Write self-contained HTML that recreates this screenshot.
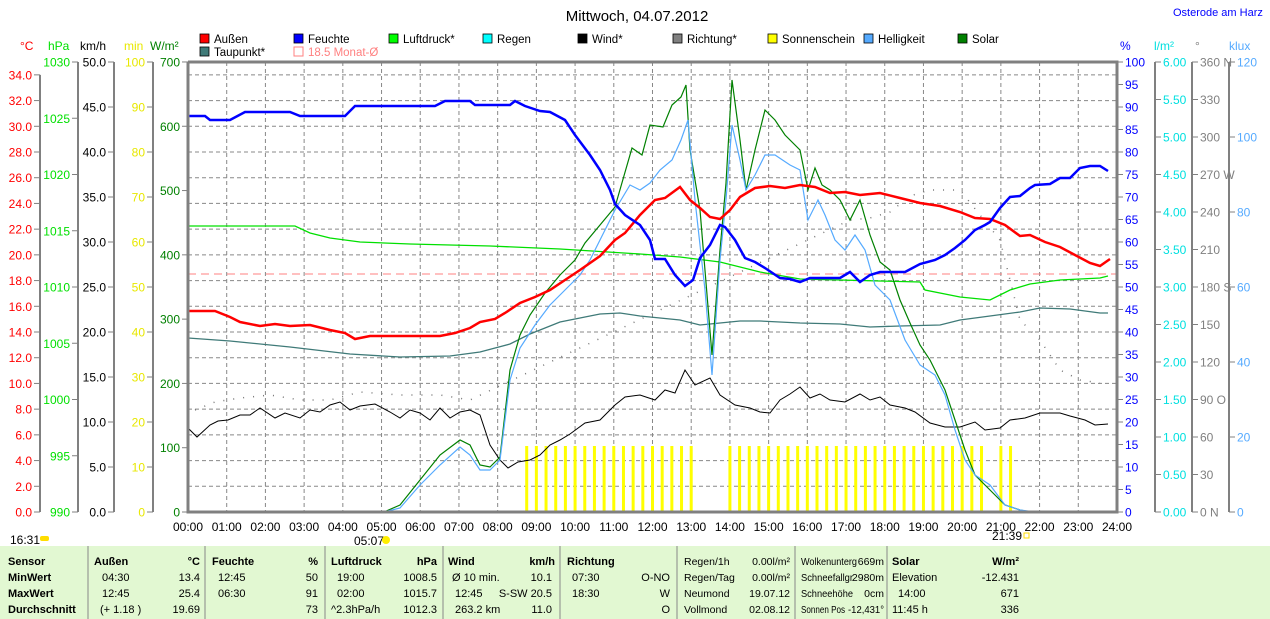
<!DOCTYPE html>
<html><head><meta charset="utf-8"><style>
body{margin:0;background:#fff;width:1270px;height:619px;overflow:hidden;font-family:"Liberation Sans",sans-serif}
svg{position:absolute;left:0;top:0}
</style></head><body>
<svg id="s" width="1270" height="619" xmlns="http://www.w3.org/2000/svg" font-family="Liberation Sans, sans-serif" font-size="11"></svg>
<script>
const s=document.getElementById('s');let h='';
const X=t=>188+38.708*t;
const L=188,R=1117,T=62,B=512;
h+=`<rect x="0" y="546" width="1270" height="73" fill="#e2f8d2"/>`;
[88,205,325,443,560,677,795,887].forEach(x=>h+=`<line x1="${x}" y1="546" x2="${x}" y2="619" stroke="#888" stroke-width="1"/>`);
for(let k=1;k<=17;k++){const y=512-25.714*k;h+=`<line x1="${L}" y1="${y}" x2="${R}" y2="${y}" stroke="#888" stroke-dasharray="4,3"/>`;}
for(let k=1;k<24;k++){h+=`<line x1="${X(k)}" y1="${T}" x2="${X(k)}" y2="${B}" stroke="#888" stroke-dasharray="4,3"/>`;}
const bars=[];for(let t=8.75;t<=13.001;t+=.25)bars.push(t);for(let t=14;t<=20.501;t+=.25)bars.push(t);bars.push(21,21.25);
bars.forEach(t=>h+=`<rect x="${X(t)-1.5}" y="446" width="3" height="66" fill="#ffff00"/>`);
h+=`<line x1="${L}" y1="511" x2="${R}" y2="511" stroke="#ffff00" stroke-dasharray="1,9"/>`;
h+=`<line x1="${L}" y1="274" x2="${R}" y2="274" stroke="#ff8080" stroke-dasharray="8,5"/>`;
function pl(pts,c,w,extra=''){h+=`<polyline fill="none" stroke="${c}" stroke-width="${w}" ${extra} points="${pts}"/>`;}
pl("195,410 215,402 240,398 270,395 300,400 330,400 360,392 400,395 440,395 470,400 850,220 870,218 890,212 910,196 930,190 960,190 1000,240 1020,320 1040,340 1060,370 1080,380 1100,383","#777",1.5,'stroke-dasharray="1,9"');
pl("188,338 230,341 290,347 350,354 400,357 450,356 480,352 510,344 530,334 560,322 600,314 620,313 640,316 660,318 680,320 700,325 720,323 740,321 760,321 800,323 840,324 870,327 900,326 940,325 960,320 990,316 1020,312 1040,308 1070,309 1100,313 1108,313","#3f7a78",1.3);
pl("188,226 295,226 310,233 330,238 360,242 410,244 490,246 560,249 640,254 680,257 720,262 760,272 800,279 880,281 920,282 925,290 960,297 990,300 1010,290 1030,284 1060,280 1100,278 1108,276","#00e000",1.3);
pl("188,428 197,437 210,425 218,421 228,420 240,415 250,415 260,408 275,418 285,413 300,418 310,410 320,412 330,405 340,402 350,410 360,406 375,404 390,412 400,418 410,410 420,413 430,420 440,408 450,418 460,412 470,410 480,415 490,445 500,460 508,468 518,462 530,460 540,455 550,445 560,440 570,434 585,423 600,420 615,405 625,397 640,395 655,400 665,390 675,393 685,370 695,385 710,378 720,395 735,405 750,408 760,412 770,413 780,400 790,394 800,387 810,398 820,394 830,400 845,402 860,394 870,400 880,397 890,405 905,408 915,412 930,423 945,427 960,427 975,422 985,430 1000,428 1010,420 1025,418 1040,413 1060,413 1070,416 1085,420 1095,425 1108,424","#000",1);
pl("384,512 400,505 420,480 440,455 460,440 470,445 480,465 490,467 500,457 510,370 520,335 530,315 545,293 560,275 575,260 585,243 600,225 615,207 632,148 642,155 650,125 663,127 672,105 681,97 686,85 690,150 700,210 712,355 720,250 726,183 732,80 740,140 746,190 755,150 765,110 775,120 785,135 800,150 808,190 815,168 822,185 830,190 840,200 850,220 860,200 870,235 880,262 890,270 900,300 910,323 920,345 930,360 945,390 955,420 965,450 975,475 990,490 1005,505 1020,510 1030,512","#008000",1.2);
pl("384,512 400,508 420,485 440,465 460,447 470,455 480,470 490,470 500,460 510,380 520,348 535,325 550,305 565,290 580,275 590,260 600,240 615,210 630,185 640,190 650,183 660,170 672,160 681,140 688,120 695,200 705,290 712,375 720,260 726,200 732,125 740,160 746,190 755,175 765,155 775,155 790,165 800,170 808,220 818,200 825,215 835,240 845,250 855,235 865,250 875,285 890,300 905,340 920,365 935,375 945,395 955,430 965,460 975,475 990,485 1005,505 1020,510 1035,512","#55aaff",1.2);
pl("188,311 215,311 230,317 240,322 260,326 275,324 290,326 310,325 330,330 345,333 355,339 370,336 440,336 455,333 470,328 480,322 495,319 505,313 520,303 535,297 550,290 565,280 580,270 600,256 615,240 625,233 640,215 655,200 665,198 680,187 690,200 700,208 710,217 720,219 730,210 740,197 755,188 770,186 785,188 800,185 815,187 830,193 845,192 860,195 880,193 900,198 920,203 940,206 960,212 975,218 990,219 1005,225 1020,236 1030,235 1045,242 1060,247 1075,255 1090,263 1100,266 1110,259","#ff0000",2.5);
pl("188,116 205,116 210,120 230,120 245,112 290,112 300,116 345,116 355,106 435,106 445,101 470,101 475,105 510,105 515,101 525,106 540,111 550,112 565,120 575,135 590,155 600,170 610,190 615,204 625,215 640,225 650,240 655,259 665,259 675,275 685,286 693,280 700,258 710,245 720,225 725,227 735,240 745,258 755,262 765,268 780,278 790,279 800,282 810,278 840,278 850,272 860,282 870,275 880,272 905,272 920,264 935,260 945,255 955,248 965,240 975,230 985,225 990,222 1000,208 1010,197 1020,196 1030,188 1035,185 1050,184 1060,178 1070,178 1080,168 1090,166 1100,166 1108,171","#0000ff",2.5);
h+=`<polyline fill="none" stroke="#808080" stroke-width="3" points="${L},${T} ${R},${T} ${R},${B} ${L},${B} ${L},${T}"/>`;
function axis(x,side,n,fmt,col,pos){
 h+=`<line x1="${x}" y1="${pos(n[0])}" x2="${x}" y2="${pos(n[n.length-1])}" stroke="#808080" stroke-width="2"/>`;
 n.forEach(v=>{const y=pos(v);h+=`<line x1="${x}" y1="${y}" x2="${x+side*6}" y2="${y}" stroke="#808080"/>`;
 h+=`<text x="${x+side*8}" y="${y+4.5}" fill="${col}" font-size="12" text-anchor="${side<0?'end':'start'}">${fmt(v)}</text>`;});
}
const r=(a,b,st)=>{const o=[];for(let v=a;v<=b+1e-9;v+=st)o.push(+v.toFixed(3));return o;};
axis(40,-1,r(0,34,2),v=>v.toFixed(1),"#ff0000",v=>512-12.857*v);
axis(78,-1,r(990,1030,5),v=>v,"#00e000",v=>512-11.25*(v-990));
axis(114,-1,r(0,50,5),v=>v.toFixed(1),"#000",v=>512-9*v);
axis(153,-1,r(0,100,10),v=>v,"#e8e800",v=>512-4.5*v);
r(0,700,100).forEach(v=>{const y=512-0.6429*v;h+=`<line x1="${L}" y1="${y}" x2="${L-6}" y2="${y}" stroke="#808080"/><text x="${L-8}" y="${y+4.5}" fill="#008000" font-size="12" text-anchor="end">${v}</text>`;});
r(0,100,5).forEach(v=>{const y=512-4.5*v;h+=`<line x1="${R}" y1="${y}" x2="${R+6}" y2="${y}" stroke="#808080"/><text x="${R+8}" y="${y+4.5}" fill="#0000ff" font-size="12">${v}</text>`;});
axis(1155,1,r(0,6,.5),v=>v.toFixed(2),"#00e0e0",v=>512-75*v);
const dl={0:" N",90:" O",180:" S",270:" W",360:" N"};
axis(1192,1,r(0,360,30),v=>v+(dl[v]||""),"#808080",v=>512-1.25*v);
axis(1229,1,r(0,120,20),v=>v,"#55aaff",v=>512-3.75*v);
[[20,"°C","#ff0000"],[48,"hPa","#00e000"],[80,"km/h","#000"],[124,"min","#e8e800"],[150,"W/m²","#008000"],[1120,"%","#0000ff"],[1154,"l/m²","#00e0e0"],[1195,"°","#808080"],[1229,"klux","#55aaff"]].forEach(a=>h+=`<text x="${a[0]}" y="50" fill="${a[2]}" font-size="12">${a[1]}</text>`);
for(let k=0;k<=24;k++)h+=`<text x="${X(k)}" y="531" font-size="12" text-anchor="middle">${String(k).padStart(2,'0')}:00</text>`;
h+=`<text x="10" y="544" font-size="12">16:31</text><rect x="40" y="536" width="9" height="5" rx="2" fill="#ffdd00"/>`;
h+=`<text x="354" y="545" font-size="12">05:07</text><circle cx="386" cy="540" r="4" fill="#ffee00"/>`;
h+=`<text x="992" y="540" font-size="12">21:39</text><rect x="1024" y="533" width="5" height="5" fill="none" stroke="#ffdd00"/>`;
h+=`<text x="637" y="21" font-size="15" text-anchor="middle">Mittwoch, 04.07.2012</text>`;
h+=`<text x="1173" y="16" font-size="11" fill="#0000ff">Osterode am Harz</text>`;
[[200,42,"#ff0000","Außen"],[294,42,"#0000ff","Feuchte"],[389,42,"#00ff00","Luftdruck*"],[483,42,"#00ffff","Regen"],[578,42,"#000","Wind*"],[673,42,"#808080","Richtung*"],[768,42,"#ffff00","Sonnenschein"],[864,42,"#55aaff","Helligkeit"],[958,42,"#008000","Solar"],[200,55,"#3f7a78","Taupunkt*"]].forEach(a=>{h+=`<rect x="${a[0]}" y="${a[1]-8}" width="9" height="9" fill="${a[2]}" stroke="#000" stroke-width="0.8"/><text x="${a[0]+14}" y="${a[1]+1}" font-size="11.5">${a[3]}</text>`;});
h+=`<rect x="294" y="47" width="9" height="9" fill="none" stroke="#ff8080"/><text x="308" y="56" font-size="11.5" fill="#ff8080">18.5 Monat-Ø</text>`;
const ys=[565,581,597,613];
function t(x,y,s,b,a,fs,tl){h+=`<text x="${x}" y="${y}" font-size="${fs||11}" ${b?'font-weight="bold"':''} ${a?'text-anchor="end"':''} ${tl?`textLength="${tl}" lengthAdjust="spacingAndGlyphs"`:''}>${s}</text>`;}
["Sensor","MinWert","MaxWert","Durchschnitt"].forEach((s,i)=>t(8,ys[i],s,1));
t(94,ys[0],"Außen",1);t(200,ys[0],"°C",1,1);t(102,ys[1],"04:30");t(200,ys[1],"13.4",0,1);t(102,ys[2],"12:45");t(200,ys[2],"25.4",0,1);t(100,ys[3],"(+ 1.18 )");t(200,ys[3],"19.69",0,1);
t(212,ys[0],"Feuchte",1);t(318,ys[0],"%",1,1);t(218,ys[1],"12:45");t(318,ys[1],"50",0,1);t(218,ys[2],"06:30");t(318,ys[2],"91",0,1);t(318,ys[3],"73",0,1);
t(331,ys[0],"Luftdruck",1);t(437,ys[0],"hPa",1,1);t(337,ys[1],"19:00");t(437,ys[1],"1008.5",0,1);t(337,ys[2],"02:00");t(437,ys[2],"1015.7",0,1);t(331,ys[3],"^2.3hPa/h");t(437,ys[3],"1012.3",0,1);
t(448,ys[0],"Wind",1);t(555,ys[0],"km/h",1,1);t(452,ys[1],"Ø 10 min.");t(552,ys[1],"10.1",0,1);t(455,ys[2],"12:45");t(552,ys[2],"S-SW 20.5",0,1);t(455,ys[3],"263.2 km");t(552,ys[3],"11.0",0,1);
t(567,ys[0],"Richtung",1);t(572,ys[1],"07:30");t(572,ys[2],"18:30");t(670,ys[1],"O-NO",0,1);t(670,ys[2],"W",0,1);t(670,ys[3],"O",0,1);
const f=10.5;
t(684,ys[0],"Regen/1h",0,0,f);t(790,ys[0],"0.00l/m²",0,1,f);t(684,ys[1],"Regen/Tag",0,0,f);t(790,ys[1],"0.00l/m²",0,1,f);t(684,ys[2],"Neumond",0,0,f);t(790,ys[2],"19.07.12",0,1,f);t(684,ys[3],"Vollmond",0,0,f);t(790,ys[3],"02.08.12",0,1,f);
t(801,ys[0],"Wolkenunterg",0,0,f,56);t(884,ys[0],"669m",0,1,f);t(801,ys[1],"Schneefallgr",0,0,f,52);t(884,ys[1],"2980m",0,1,f);t(801,ys[2],"Schneehöhe",0,0,f,52);t(884,ys[2],"0cm",0,1,f);t(801,ys[3],"Sonnen Pos",0,0,f,44);t(884,ys[3],"-12,431°",0,1,10,36);
t(892,ys[0],"Solar",1);t(1019,ys[0],"W/m²",1,1);t(892,ys[1],"Elevation");t(1019,ys[1],"-12.431",0,1);t(898,ys[2],"14:00");t(1019,ys[2],"671",0,1);t(892,ys[3],"11:45 h");t(1019,ys[3],"336",0,1);
s.innerHTML=h;
</script>
</body></html>
